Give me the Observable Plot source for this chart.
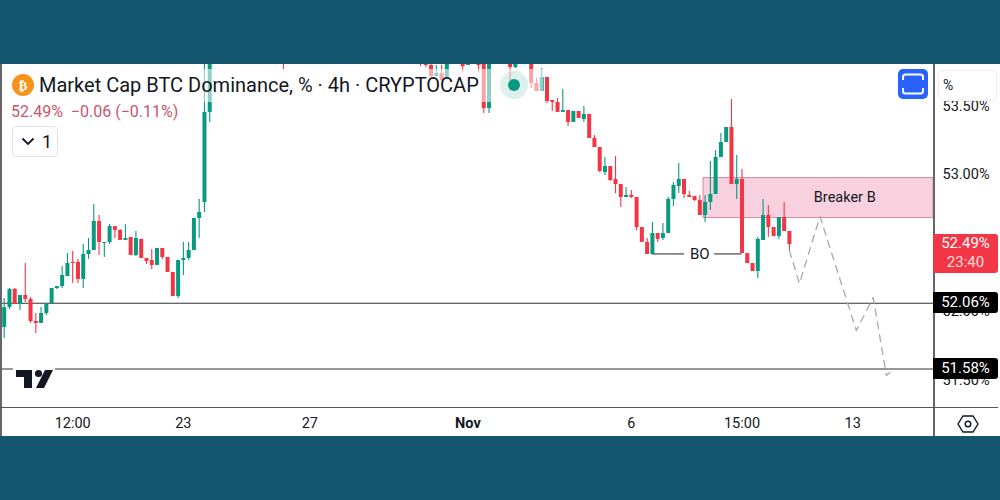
<!DOCTYPE html>
<html>
<head>
<meta charset="utf-8">
<script src="https://cdn.jsdelivr.net/npm/d3@7"></script>
<script src="https://cdn.jsdelivr.net/npm/@observablehq/plot@0.6"></script>
<style>
html,body{margin:0;padding:0;background:#14566f;width:1000px;height:500px;overflow:hidden;font-family:Roboto,sans-serif;color:#131722}
#stage{position:relative;width:1000px;height:500px;overflow:hidden}
#panel{position:absolute;left:0;top:64px;width:1000px;height:372px;background:#fff}
#plot{position:absolute;left:0;top:0}
#plot svg{background:transparent;display:block}
.abs{position:absolute}
.tag{position:absolute;left:933px;width:65px;box-sizing:border-box;border-radius:0 3px 3px 0;color:#fff;font-size:15px;line-height:21px;text-align:center}
</style>
</head>
<body>
<div id="stage">
  <div id="panel"></div>
  <div id="plot"></div>
  <div class="abs" style="left:0;top:64px;width:1.5px;height:372px;background:#666"></div>
  <div class="abs" style="left:933px;top:64px;width:1.5px;height:372px;background:#666"></div>
  <div class="abs" style="left:0;top:406.5px;width:998px;height:1.2px;background:#555"></div>
  <div class="abs" style="left:2px;top:68.5px;width:541px;height:33px;background:rgba(255,255,255,.55)"></div>
  <div class="abs" style="left:500px;top:71px;width:28px;height:28px;border-radius:50%;background:rgba(8,153,129,.14)"></div>
  <div class="abs" style="left:508px;top:79px;width:12px;height:12px;border-radius:50%;background:#089981"></div>
  <svg class="abs" style="left:12px;top:74px" width="22" height="22" viewBox="0 0 22 22"><circle cx="11" cy="11" r="11" fill="#f7931a"/><text x="11" y="16" text-anchor="middle" font-family="DejaVu Sans" font-size="13" font-weight="bold" fill="#fff">₿</text></svg>
  <div class="abs" id="title" style="left:39px;top:73px;font-size:20px;line-height:24px;white-space:nowrap;color:#131722">Market Cap BTC Dominance, % · 4h · CRYPTOCAP</div>
  <div class="abs" id="quote" style="left:11px;top:102px;font-size:16px;line-height:20px;white-space:nowrap;color:#c9566a">52.49%&nbsp; −0.06 (−0.11%)</div>
  <div class="abs" style="left:12px;top:126px;width:46px;height:31px;box-sizing:border-box;border:1px solid #e0e3eb;border-radius:4px;background:#fff"></div>
  <svg class="abs" style="left:21px;top:137px" width="14" height="9" viewBox="0 0 14 9"><path d="M1.5 1.5 L7 7 L12.5 1.5" fill="none" stroke="#131722" stroke-width="1.8"/></svg>
  <div class="abs" style="left:42px;top:131px;font-size:18px;line-height:22px">1</div>
  <div class="abs" style="left:898px;top:69px;width:30px;height:30px;border-radius:5px;background:#2962ff"></div>
  <svg class="abs" style="left:898px;top:69px" width="30" height="30" viewBox="0 0 30 30"><path d="M5 11 V8 Q5 5.5 7.5 5.5 H22.5 Q25 5.5 25 8 V11 M5 19 V22 Q5 24.5 7.5 24.5 H22.5 Q25 24.5 25 22 V19" fill="none" stroke="#fff" stroke-width="2"/></svg>
  <div class="abs" style="left:938px;top:70px;width:59px;height:31px;box-sizing:border-box;border:1px solid #eceef2;border-radius:5px;background:#fff;font-size:14px;line-height:29px;padding-left:4px">%</div>
  <div class="abs" style="left:13px;top:364px;width:42px;height:10px;background:#fff"></div>
  <svg class="abs" style="left:15px;top:369px" width="40" height="20" viewBox="0 0 40 20"><path d="M1 1 H17 V19 H9 V8 H1 Z" fill="#131722"/><circle cx="23.5" cy="4.5" r="3.6" fill="#131722"/><path d="M30 1 H38 L29 19 H21 Z" fill="#131722"/></svg>
  <svg class="abs" style="left:957px;top:414px" width="22" height="20" viewBox="0 0 22 20"><path d="M6 2 H16 L21 10 L16 18 H6 L1 10 Z" fill="none" stroke="#131722" stroke-width="1.4"/><circle cx="11" cy="10" r="2.8" fill="none" stroke="#131722" stroke-width="1.4"/></svg>
</div>
<script>
const barIndex = [0,1,2,3,4,5,6,7,8,9,10,11,12,13,14,15,16,17,18,19,20,21,22,23,24,25,26,27,28,29,30,31,32,33,34,35,36,37,38,39,
  53,79,80,81,82,83,84,87,88,90,91,92,96,97,
  100,101,102,103,104,105,106,107,108,109,110,111,112,113,114,115,116,117,118,119,120,121,122,123,124,125,126,127,128,129,
  130,131,132,133,134,135,136,137,138,139,140,141,142,143,144,145,146,147,148,149];
const opens = [51.883,52.029,52.161,52.051,52.117,52.088,51.927,51.912,51.985,52.058,52.168,52.182,52.255,52.358,52.358,52.234,52.416,52.445,52.657,52.497,52.504,52.620,52.591,52.518,52.540,52.409,52.526,52.387,52.372,52.336,52.460,52.394,52.285,52.109,52.372,52.387,52.445,52.679,52.796,53.453,
  53.95,53.90,53.90,53.796,53.715,53.737,53.693,53.86,53.796,53.85,53.85,53.482,53.85,53.781,
  53.85,53.664,53.606,53.708,53.540,53.526,53.453,53.467,53.380,53.460,53.401,53.438,53.263,53.197,53.015,53.058,52.964,52.927,52.832,52.847,52.832,52.613,52.504,52.416,52.569,52.533,52.569,52.818,52.912,52.964,
  52.847,52.839,52.810,52.701,52.796,52.854,53.124,53.234,53.343,52.927,52.964,52.423,52.350,52.292,52.518,52.701,52.613,52.547,52.686,52.584];
const highs = [52.095,52.168,52.168,52.117,52.350,52.102,51.985,52.029,52.058,52.168,52.182,52.328,52.423,52.438,52.380,52.489,52.533,52.781,52.701,52.504,52.635,52.620,52.599,52.635,52.540,52.584,52.526,52.387,52.453,52.460,52.460,52.394,52.285,52.372,52.504,52.504,52.679,52.818,53.85,53.95,
  54.00,53.95,53.95,53.82,53.796,53.796,53.86,53.90,53.90,53.90,53.90,53.90,53.90,53.90,
  53.90,53.701,53.774,53.708,53.540,53.555,53.620,53.467,53.460,53.460,53.496,53.438,53.285,53.197,53.124,53.058,53.131,52.927,52.905,52.883,52.832,52.613,52.533,52.650,52.569,52.642,52.832,52.942,53.080,52.964,
  52.876,52.839,52.847,52.847,53.095,53.175,53.299,53.343,53.547,53.139,53.036,52.423,52.350,52.540,52.818,52.774,52.613,52.686,52.796,52.584];
const lows = [51.803,52.015,52.051,52.007,52.066,51.912,51.839,51.912,51.971,52.058,52.161,52.168,52.255,52.204,52.204,52.168,52.380,52.445,52.409,52.394,52.489,52.533,52.518,52.518,52.409,52.401,52.387,52.343,52.307,52.336,52.380,52.285,52.109,52.095,52.263,52.372,52.445,52.533,52.723,53.380,
  53.766,53.788,53.781,53.708,53.715,53.686,53.693,53.745,53.796,53.745,53.445,53.445,53.686,53.774,
  53.628,53.606,53.606,53.518,53.460,53.453,53.453,53.350,53.380,53.409,53.380,53.263,53.197,53.015,52.993,52.949,52.861,52.759,52.832,52.825,52.591,52.504,52.416,52.416,52.504,52.518,52.569,52.766,52.861,52.825,
  52.832,52.803,52.701,52.650,52.737,52.854,53.124,53.234,52.927,52.818,52.423,52.350,52.292,52.241,52.518,52.540,52.547,52.526,52.584,52.445];
const closes = [52.029,52.161,52.051,52.117,52.088,51.927,51.912,51.985,52.058,52.168,52.182,52.263,52.350,52.350,52.234,52.416,52.445,52.657,52.504,52.504,52.620,52.591,52.518,52.533,52.409,52.533,52.387,52.365,52.336,52.460,52.394,52.285,52.109,52.372,52.387,52.445,52.679,52.723,53.453,53.90,
  53.85,53.82,53.796,53.715,53.737,53.686,53.83,53.788,53.87,53.796,53.482,53.85,53.781,53.85,
  53.664,53.606,53.708,53.533,53.526,53.453,53.467,53.380,53.460,53.409,53.438,53.263,53.197,53.022,53.058,52.956,52.927,52.832,52.847,52.832,52.613,52.504,52.416,52.569,52.526,52.569,52.818,52.920,52.964,52.854,
  52.832,52.810,52.701,52.796,52.854,53.124,53.234,53.343,52.927,52.964,52.423,52.350,52.292,52.526,52.701,52.613,52.547,52.686,52.584,52.489];

const xDomain = [-0.7, 176.34];
const yDomain = [51.299, 53.803];
const xTickAt = [13, 34, 58, 119, 140, 161];
const xTickText = ["12:00", "23", "27", "6", "15:00", "13"];
const monthTickAt = [88];
const monthTickText = ["Nov"];
const yTicks = [51.5, 52, 53, 53.5];
const levels = [52.06, 51.58];
const zone = {x1: 132.7, y1: 52.682, y2: 52.974};
const zoneLabel = {x: 159.5, y: 52.83, text: "Breaker B"};
const boLevel = 52.42;
const boLabel = {x: 132, text: "BO"};
const boSegments = [[123, 129.1], [134.8, 140]];
const pathX = [149, 150.9, 154.8, 161.7, 164.9, 167.4, 168.7];
const pathY = [52.445, 52.204, 52.693, 51.861, 52.102, 51.533, 51.576];
const lastPrice = 52.49, lastLabel = "52.49%", countdown = "23:40";

const UP = "#089981", DOWN = "#f23645";
const bars = barIndex.map((i, k) => ({i, o: opens[k], h: highs[k], l: lows[k], c: closes[k]}));
const forecast = pathX.map((x, k) => ({x, y: pathY[k]}));
const isUp = d => d.c >= d.o, isDown = d => d.c < d.o;
const candle = (test, color) => [
  Plot.ruleX(bars, {filter: test, x: "i", y1: "l", y2: "h", stroke: color, strokeWidth: 1.1, clip: "frame"}),
  Plot.ruleX(bars, {filter: test, x: "i", y1: "o", y2: "c", stroke: color, strokeWidth: 4, clip: "frame"})
];

const chart = Plot.plot({
  width: 1000, height: 500,
  marginLeft: 0, marginRight: 67, marginTop: 64, marginBottom: 93,
  style: {fontFamily: "Roboto, sans-serif", background: "transparent", color: "#131722"},
  x: {domain: xDomain},
  y: {domain: yDomain},
  marks: [
    Plot.rect([zone], {x1: "x1", x2: () => xDomain[1], y1: "y1", y2: "y2", fill: "#f9d0de", stroke: "#d58aa6", strokeWidth: 1}),
    Plot.ruleY(levels, {stroke: "#333", strokeWidth: 1.2}),
    Plot.ruleY(boSegments, {y: () => boLevel, x1: d => d[0], x2: d => d[1], stroke: "#222", strokeWidth: 1}),
    Plot.text([boLabel], {x: "x", y: () => boLevel, text: "text", fontSize: 15, fill: "#131722"}),
    Plot.text([zoneLabel], {x: "x", y: "y", text: "text", fontSize: 14.5, fill: "#131722"}),
    ...candle(isUp, UP),
    ...candle(isDown, DOWN),
    Plot.line(forecast, {x: "x", y: "y", stroke: "#a8a8a8", strokeWidth: 1.3, strokeDasharray: "7 6"}),
    Plot.axisX({ticks: xTickAt, tickFormat: d => xTickText[xTickAt.indexOf(d)], tickSize: 0, tickPadding: 10, fontSize: 14.5, fill: "#131722", label: null}),
    Plot.axisX({ticks: monthTickAt, tickFormat: () => monthTickText[0], tickSize: 0, tickPadding: 10, fontSize: 14.5, fontWeight: "bold", fill: "#131722", label: null}),
    Plot.axisY({anchor: "right", ticks: yTicks, tickFormat: d => d.toFixed(2) + "%", tickSize: 0, tickPadding: 9, fontSize: 14.5, fill: "#131722", label: null})
  ]
});
document.getElementById("plot").appendChild(chart);

const yPos = v => chart.scale("y").apply(v);
const stage = document.getElementById("stage");
levels.forEach(v => {
  const t = document.createElement("div");
  t.className = "tag";
  t.style.background = "#000";
  t.style.top = (yPos(v) - 10.5) + "px";
  t.textContent = v.toFixed(2) + "%";
  stage.appendChild(t);
});
const p = document.createElement("div");
p.className = "tag";
p.style.background = DOWN;
p.style.top = (yPos(lastPrice) - 10) + "px";
p.style.padding = "0";
p.style.height = "39px";
p.style.lineHeight = "19px";
p.innerHTML = "<div>" + lastLabel + "</div><div style='opacity:.82'>" + countdown + "</div>";
stage.appendChild(p);
</script>
</body>
</html>
